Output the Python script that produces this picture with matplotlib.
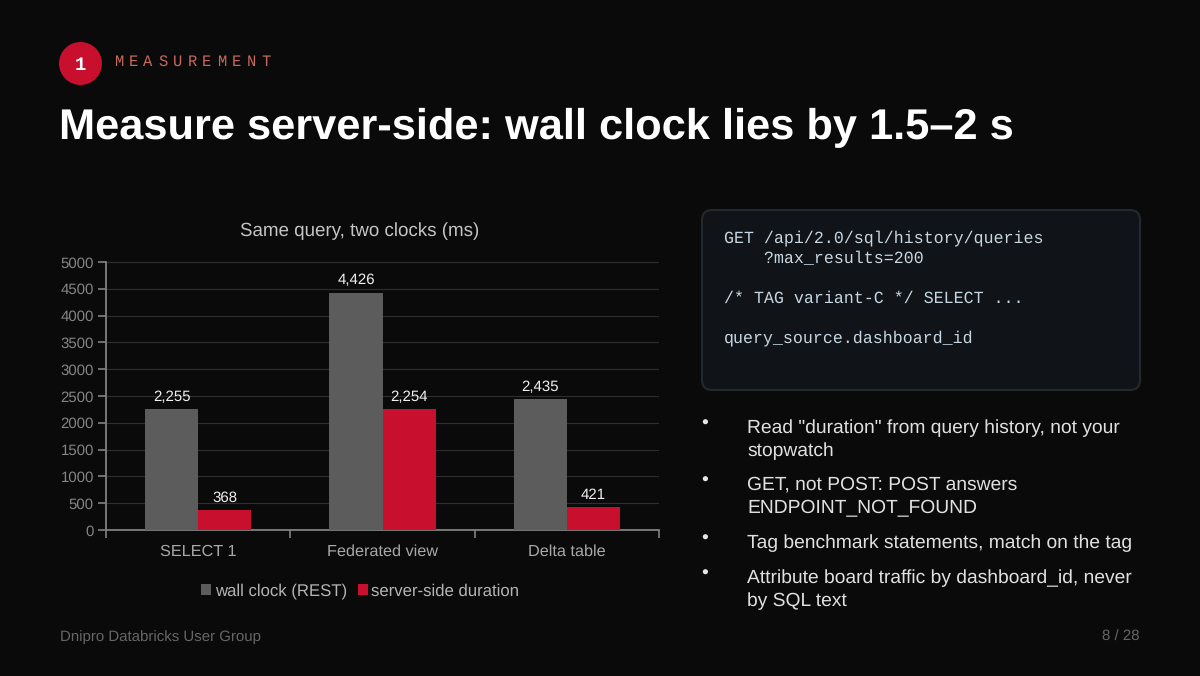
import matplotlib
matplotlib.use('Agg')
import matplotlib.pyplot as plt
import numpy as np
from matplotlib.patches import Circle, FancyBboxPatch, Patch

# без хинтинга текст ближе к браузерному рендеру
plt.rcParams['text.hinting'] = 'no_hinting'

W, H = 1200, 676

# данные графика
categories = ['SELECT 1', 'Federated view', 'Delta table']
wall_clock = [2255, 4426, 2435]
server_side = [368, 2254, 421]
y_ticks = [0, 500, 1000, 1500, 2000, 2500, 3000, 3500, 4000, 4500, 5000]
series_names = ['wall clock (REST)', 'server-side duration']
chart_title = 'Same query, two clocks (ms)'

# текст слайда
kicker = 'MEASUREMENT'
headline = 'Measure server-side: wall clock lies by 1.5–2 s'
code_lines = ['GET /api/2.0/sql/history/queries', '    ?max_results=200', '',
              '/* TAG variant-C */ SELECT ...', '', 'query_source.dashboard_id']
bullets = [['Read "duration" from query history, not your', 'stopwatch'],
           ['GET, not POST: POST answers', 'ENDPOINT_NOT_FOUND'],
           ['Tag benchmark statements, match on the tag'],
           ['Attribute board traffic by dashboard_id, never', 'by SQL text']]
bullet_y = [428, 485, 543, 578]

BG = '#0a0a0b'
GREY = '#5c5c5c'
RED = '#c8102e'
SANS = 'Liberation Sans'
MONO = 'Liberation Mono'

fig = plt.figure(figsize=(W / 100, H / 100), dpi=100, facecolor=BG)

# слой всего слайда в пиксельных координатах
page = fig.add_axes([0, 0, 1, 1])
page.set_xlim(0, W)
page.set_ylim(H, 0)
page.axis('off')

page.add_patch(Circle((80.5, 63.5), 21.5, facecolor=RED, edgecolor='none'))
page.text(80.5, 65, '1', color='white', fontsize=13.5, fontweight='bold',
          family=MONO, ha='center', va='center')
for i, ch in enumerate(kicker):
    page.text(114 + i * 14.7, 62, ch, color='#c9685c', fontsize=11.2, family=MONO,
              ha='left', va='center')
page.text(59, 128, headline, color='white', fontsize=31.2, fontweight='bold',
          family=SANS, ha='left', va='center')

# блок с кодом
page.add_patch(FancyBboxPatch((702, 210), 438, 180, boxstyle='round,pad=0,rounding_size=10',
                              facecolor='#101418', edgecolor='#24292d', linewidth=1.5))
for i, line in enumerate(code_lines):
    page.text(724, 238.5 + i * 20, line, color='#c6d6e2', fontsize=11.95, family=MONO,
              ha='left', va='center')

# список справа
for y, lines in zip(bullet_y, bullets):
    page.text(705, y - 4, '•', color='#e6e6e6', fontsize=14, family=SANS, ha='center', va='center')
    for j, line in enumerate(lines):
        page.text(747, y + j * 23.5, line, color='#e0e0e0', fontsize=13.9, family=SANS,
                  ha='left', va='center')

page.text(59.5, 637, 'Dnipro Databricks User Group', color='#666666', fontsize=10.8,
          family=SANS, ha='left', va='center')
page.text(1140, 637, '8 / 28', color='#666666', fontsize=10.8, family=SANS,
          ha='right', va='center')

# столбчатая диаграмма
ax = fig.add_axes([106 / W, (H - 530) / H, 553 / W, 268 / H], facecolor='none')
x = np.arange(len(categories))
width = 0.2877
ax.bar(x - width / 2, wall_clock, width, color=GREY, zorder=3)
ax.bar(x + width / 2, server_side, width, color=RED, zorder=3)

for xs, vals in ((x - width / 2, wall_clock), (x + width / 2, server_side)):
    for xi, v in zip(xs, vals):
        ax.annotate(f'{v:,}', (xi, v), xytext=(0, 3.8), textcoords='offset points',
                    color='#f0f0f0', fontsize=10.8, family=SANS, ha='center', va='bottom', zorder=4)

ax.set_xlim(-0.5, len(categories) - 0.5)
ax.set_ylim(0, 5000)
ax.set_yticks(y_ticks)
ax.set_yticklabels([str(t) for t in y_ticks], family=SANS)
ax.set_xticks(np.arange(len(categories) + 1) - 0.5)
ax.set_xticklabels([])
ax.set_xticks(x, categories, minor=True, family=SANS)
ax.grid(axis='y', color='#2f2f2f', linewidth=0.8, zorder=0)
ax.set_axisbelow(True)
ax.tick_params(axis='y', colors='#858585', labelsize=10.8, length=5.8, width=1.2, pad=3, color='#808080')
ax.tick_params(axis='x', which='major', length=5.8, width=1.2, color='#808080')
ax.tick_params(axis='x', which='minor', length=0, labelsize=11.7, labelcolor='#a8a8a8', pad=10.3)
for side in ('top', 'right'):
    ax.spines[side].set_visible(False)
for side in ('left', 'bottom'):
    ax.spines[side].set_color('#808080')
    ax.spines[side].set_linewidth(1.3)

page.text(359.5, 231.5, chart_title, color='#c4c4c4', fontsize=13.5, family=SANS,
          ha='center', va='center')

handles = [Patch(facecolor=GREY, label=series_names[0]), Patch(facecolor=RED, label=series_names[1])]
leg = ax.legend(handles=handles, loc='center', bbox_to_anchor=(0.4595, -0.2285), frameon=False, ncol=2,
                prop={'family': SANS, 'size': 12.05}, labelcolor='#b4b4b4', handlelength=0.6,
                handleheight=0.6, handletextpad=0.2, columnspacing=0.65, borderpad=0, borderaxespad=0)

fig.savefig('out.png', dpi=100, facecolor=BG)
